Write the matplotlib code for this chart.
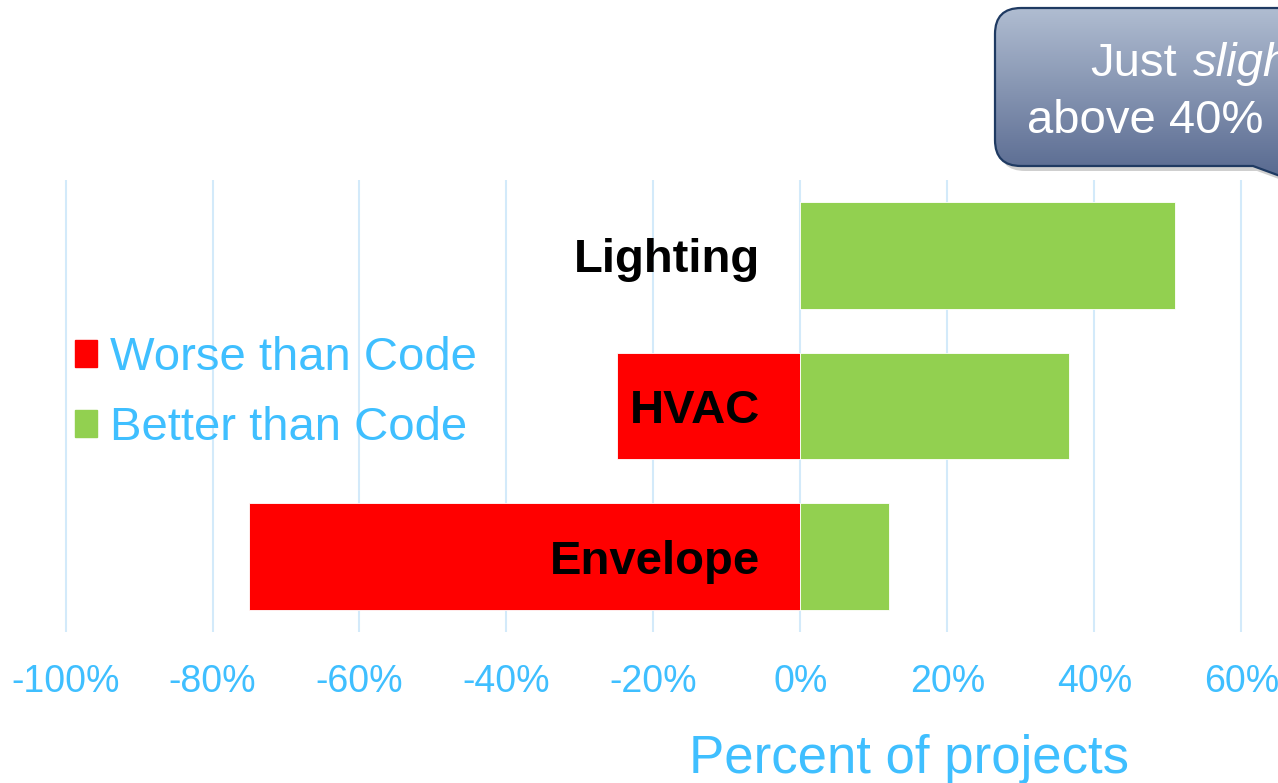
import numpy as np
import matplotlib
matplotlib.use("Agg")
import matplotlib.pyplot as plt
from matplotlib.path import Path
from matplotlib.patches import PathPatch, Patch
from matplotlib.transforms import Affine2D

plt.rcParams['font.family'] = ['Liberation Sans', 'DejaVu Sans']

categories = ["Lighting", "HVAC", "Envelope"]
worse = [0, -25, -75]      # percent of projects worse than code
better = [51, 36.5, 12]    # percent of projects better than code
ticks = [-100, -80, -60, -40, -20, 0, 20, 40, 60]
tick_labels = [f"{t}%" for t in ticks]

RED = "#FF0000"
GREEN = "#92D050"
BLUE = "#3FBFFF"
GRID = "#D3EAFA"

W, H = 1278, 783
fig = plt.figure(figsize=(W / 100, H / 100), dpi=100)
ax = fig.add_axes([0, (H - 632) / H, 1, 452 / H])

y = np.arange(len(categories))
ax.barh(y, worse, height=0.71, color=RED, edgecolor="white", linewidth=0.6, zorder=2)
ax.barh(y, better, height=0.71, color=GREEN, edgecolor="white", linewidth=0.6, zorder=2)

ax.set_xlim(-800.5 / 7.35, (W - 800.5) / 7.35)
ax.set_ylim(2.5, -0.5)
ax.set_xticks(ticks)
ax.set_xticklabels(tick_labels)
ax.set_yticks([])
ax.tick_params(axis="x", length=0, pad=23, labelsize=27, labelcolor=BLUE)
ax.grid(axis="x", color=GRID, linewidth=1.5, zorder=0)
ax.set_axisbelow(True)
for s in ax.spines.values():
    s.set_visible(False)

for yi, name in zip(y, categories):
    ax.text(-5.5, yi + 0.113, name, ha="right", va="baseline",
            fontsize=34, fontweight="bold", color="black", zorder=3)

handles = [Patch(color=RED, label="Worse than Code"),
           Patch(color=GREEN, label="Better than Code")]
ax.legend(handles=handles, loc="upper left",
          bbox_to_anchor=(75 / W, (H - 336) / H), bbox_transform=fig.transFigure,
          frameon=False, fontsize=34, labelcolor=BLUE, borderpad=0, borderaxespad=0,
          handlelength=0.47, handleheight=0.5, handletextpad=0.28, labelspacing=0.56)

fig.text(909 / W, (H - 773) / H, "Percent of projects", ha="center", va="baseline",
         fontsize=38, color=BLUE)

# callout box in pixel coordinates
ov = fig.add_axes([0, 0, 1, 1], zorder=5)
ov.set_xlim(0, W)
ov.set_ylim(H, 0)
ov.axis("off")

x0, y0, x1, y1, r = 995, 8, 1500, 166, 26
verts = [(x0 + r, y0), (x1, y0), (x1, y1), (1420, y1), (1400, 220), (1253, y1),
         (x0 + r, y1), (x0, y1), (x0, y1 - r), (x0, y0 + r), (x0, y0), (x0 + r, y0),
         (x0 + r, y0)]
codes = [Path.MOVETO, Path.LINETO, Path.LINETO, Path.LINETO, Path.LINETO, Path.LINETO,
         Path.LINETO, Path.CURVE3, Path.CURVE3, Path.LINETO, Path.CURVE3, Path.CURVE3,
         Path.CLOSEPOLY]
path = Path(verts, codes)

shadow = PathPatch(path, facecolor="#777777", edgecolor="none", alpha=0.35, zorder=0)
shadow.set_transform(Affine2D().translate(4, 5) + ov.transData)
ov.add_patch(shadow)

top_c = np.array([0.69, 0.74, 0.82])
bot_c = np.array([0.30, 0.37, 0.53])
t = np.linspace(0, 1, 200)[:, None]
grad = (top_c * (1 - t) + bot_c * t)[:, None, :]
im = ov.imshow(grad, extent=(x0, x1, 200, y0), aspect="auto", origin="upper", zorder=1)
box = PathPatch(path, facecolor="none", edgecolor="#1F3A62", linewidth=1.6, zorder=2)
ov.add_patch(box)
im.set_clip_path(box)

ov.text(1090, 76, "Just", fontsize=34, color="white", ha="left", va="baseline", zorder=3)
ov.text(1193, 76, "slightly", fontsize=34, color="white", style="italic",
        ha="left", va="baseline", zorder=3)
ov.text(1027, 133, "above 40%", fontsize=34, color="white", ha="left", va="baseline", zorder=3)
ov.set_xlim(0, W)
ov.set_ylim(H, 0)

fig.savefig("out.png", dpi=100)
